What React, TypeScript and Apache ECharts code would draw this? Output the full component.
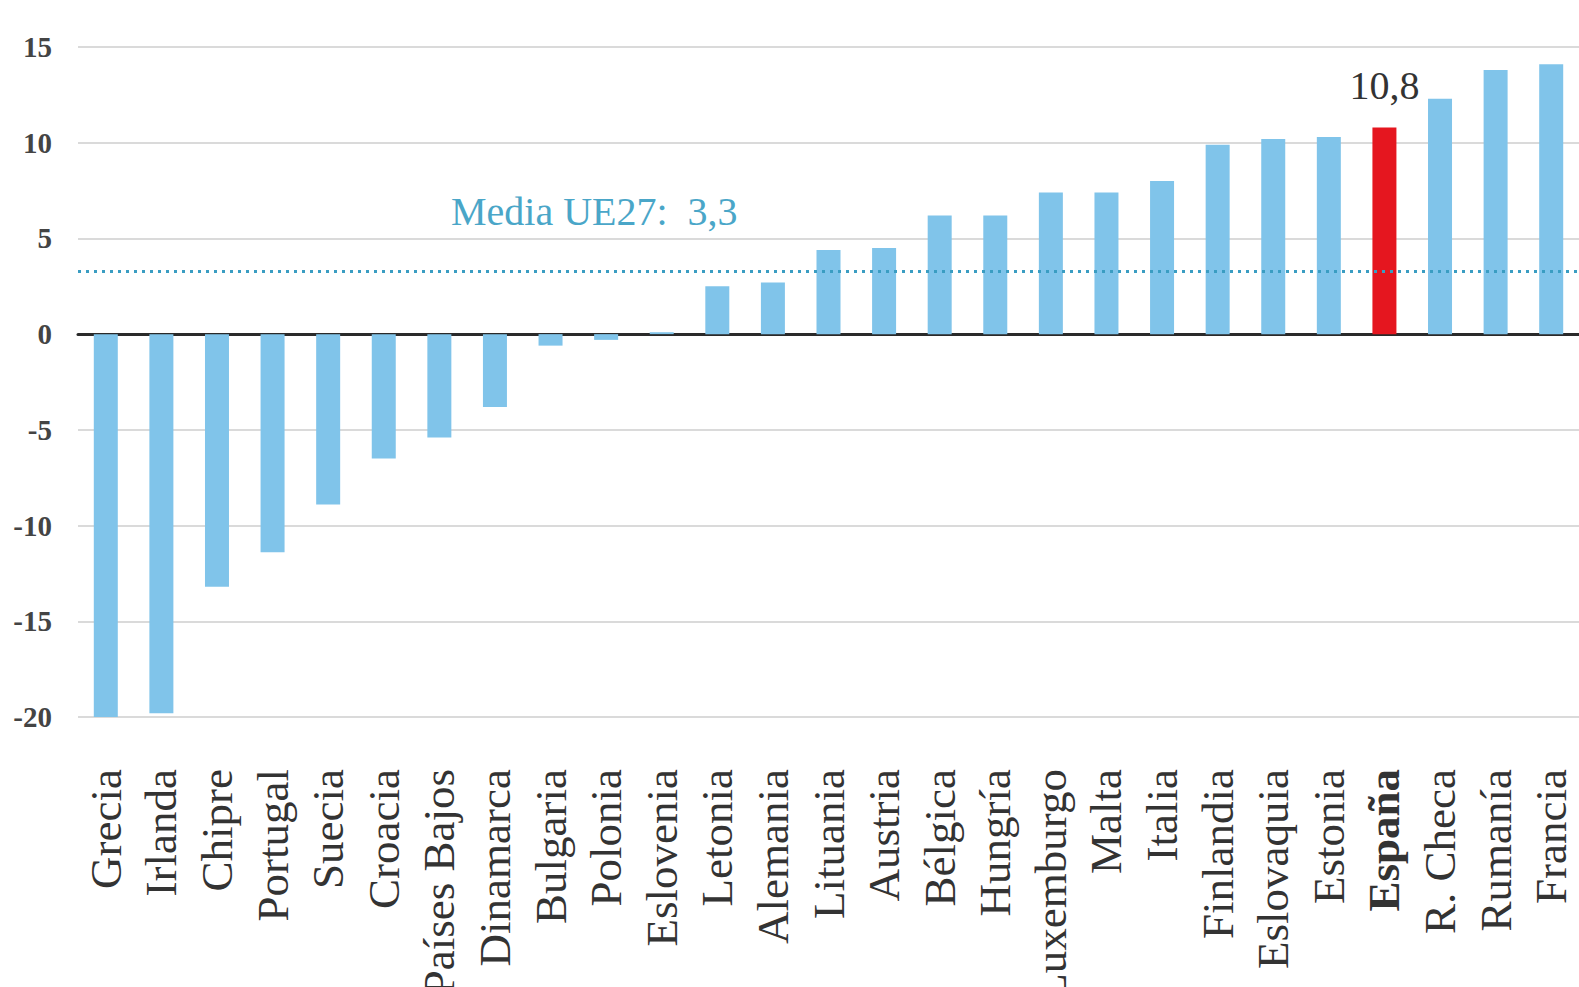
import React, { useEffect, useRef } from "react";
import * as echarts from "echarts";

const countries = [
  "Grecia", "Irlanda", "Chipre", "Portugal", "Suecia", "Croacia", "Países Bajos",
  "Dinamarca", "Bulgaria", "Polonia", "Eslovenia", "Letonia", "Alemania", "Lituania",
  "Austria", "Bélgica", "Hungría", "Luxemburgo", "Malta", "Italia", "Finlandia",
  "Eslovaquia", "Estonia", "España", "R. Checa", "Rumanía", "Francia",
];
const values = [
  -20.0, -19.8, -13.2, -11.4, -8.9, -6.5, -5.4, -3.8, -0.6, -0.3, 0.1, 2.5, 2.7, 4.4,
  4.5, 6.2, 6.2, 7.4, 7.4, 8.0, 9.9, 10.2, 10.3, 10.8, 12.3, 13.8, 14.1,
];
const highlight = "España";
const highlightLabel = "10,8";
const euMean = 3.3;
const euMeanLabel = "Media UE27:  3,3";
const yTicks = { min: -20, max: 15, interval: 5 };

const SERIF = "'Liberation Serif', 'DejaVu Serif', serif";
const BLUE = "#80c4ea";
const RED = "#e5161f";

export default function App() {
  const ref = useRef<HTMLDivElement>(null);
  useEffect(() => {
    if (!ref.current) return;
    const chart = echarts.init(ref.current, undefined, { renderer: "svg" });
    chart.setOption({
      animation: false,
      backgroundColor: "#ffffff",
      grid: {
        left: 78,
        right: 0,
        top: 47,
        bottom: 270,
        containLabel: false,
        outerBoundsMode: "none",
      },
      xAxis: {
        type: "category",
        data: countries,
        axisLine: { onZero: true, lineStyle: { color: "#2a2a2a", width: 3 } },
        axisTick: { show: false },
        axisLabel: {
          rotate: 90,
          margin: 52,
          interval: 0,
          fontFamily: SERIF,
          fontSize: 45,
          color: "#333333",
          formatter: (v: string) => (v === highlight ? `{b|${v}}` : v),
          rich: {
            b: { fontFamily: SERIF, fontSize: 45, fontWeight: "bold", color: "#333333" },
          },
        },
      },
      yAxis: {
        type: "value",
        min: yTicks.min,
        max: yTicks.max,
        interval: yTicks.interval,
        axisLine: { show: false },
        axisTick: { show: false },
        splitLine: { lineStyle: { color: "#dadada", width: 2 } },
        axisLabel: {
          margin: 26,
          fontFamily: SERIF,
          fontSize: 29,
          fontWeight: "bold",
          color: "#444444",
        },
      },
      series: [
        {
          type: "bar",
          barWidth: 24,
          data: countries.map((c, i) =>
            c === highlight
              ? {
                  value: values[i],
                  itemStyle: { color: RED },
                  label: {
                    show: true,
                    position: "top",
                    distance: 22,
                    formatter: highlightLabel,
                    fontFamily: SERIF,
                    fontSize: 40,
                    color: "#333333",
                  },
                }
              : { value: values[i], itemStyle: { color: BLUE } }
          ),
          markLine: {
            silent: true,
            symbol: "none",
            label: { show: false },
            lineStyle: { color: "#3a9dc2", width: 3, type: [3, 5] },
            data: [{ yAxis: euMean }],
          },
        },
      ],
      graphic: [
        {
          type: "text",
          left: 451,
          top: 191,
          style: {
            text: euMeanLabel,
            fontFamily: SERIF,
            fontSize: 40,
            fill: "#4aa6c8",
          },
        },
      ],
    });
    return () => chart.dispose();
  }, []);
  return (
    <div
      ref={ref}
      style={{ position: "absolute", left: 0, top: 0, width: 1579, height: 987 }}
    />
  );
}
